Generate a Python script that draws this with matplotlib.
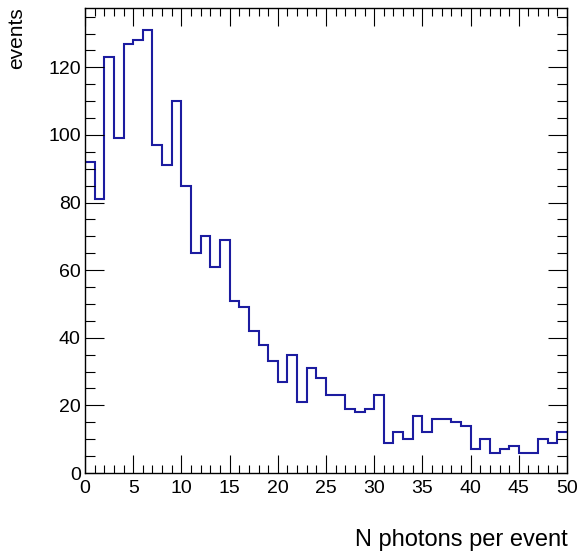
import numpy as np
import matplotlib.pyplot as plt
from matplotlib.ticker import MultipleLocator

# histogram contents, 50 bins from 0 to 50
bin_edges = np.arange(0, 51, 1)
counts = [92, 81, 123, 99, 127, 128, 131, 97, 91, 110,
          85, 65, 70, 61, 69, 51, 49, 42, 38, 33,
          27, 35, 21, 31, 28, 23, 23, 19, 18, 19,
          23, 9, 12, 10, 17, 12, 16, 16, 15, 14,
          7, 10, 6, 7, 8, 6, 6, 10, 9, 12]
x_title = 'N photons per event'
y_title = 'events'

plt.rcParams['font.family'] = ['Liberation Sans', 'DejaVu Sans']

fig = plt.figure(figsize=(5.82, 5.52), dpi=100)
ax = fig.add_axes([85 / 582, 1 - 473 / 552, 482 / 582, 465 / 552])

ax.stairs(counts, bin_edges, color='#1c1ca0', linewidth=1.5, baseline=None)

ax.set_xlim(0, 50)
ax.set_ylim(0, max(counts) * 1.05)

ax.xaxis.set_major_locator(MultipleLocator(5))
ax.xaxis.set_minor_locator(MultipleLocator(1))
ax.yaxis.set_major_locator(MultipleLocator(20))
ax.yaxis.set_minor_locator(MultipleLocator(5))
ax.tick_params(which='both', direction='in', top=True, right=True,
               labelsize=14, width=0.8, color='black')
ax.tick_params(axis='x', which='major', length=13, pad=5)
ax.tick_params(axis='x', which='minor', length=6)
ax.tick_params(axis='y', which='major', length=14, pad=3)
ax.tick_params(axis='y', which='minor', length=7)
for s in ax.spines.values():
    s.set_linewidth(1.0)

fig.text(568 / 582, 1 - 546 / 552, x_title, ha='right', va='baseline', fontsize=17)
fig.text(17 / 582, 1 - 7 / 552, y_title, ha='center', va='top', rotation=90, fontsize=15)

fig.savefig('out.png', dpi=100)
